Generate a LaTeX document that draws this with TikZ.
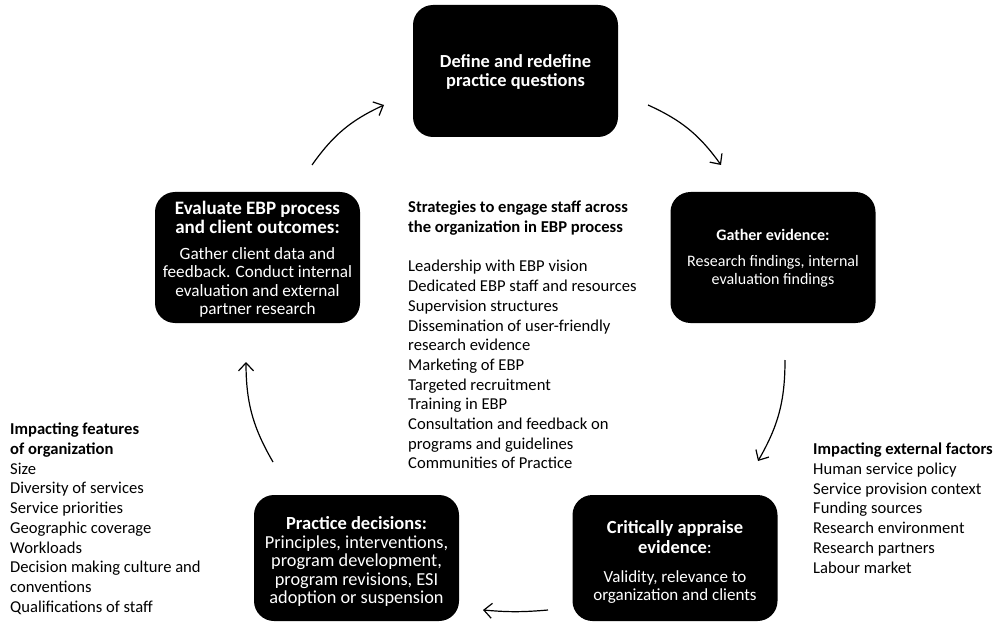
\documentclass[tikz,border=0pt]{standalone}
\usepackage{fontspec}
\setmainfont{Carlito}
\usetikzlibrary{arrows.meta}
\begin{document}
\begin{tikzpicture}[x=1pt,y=-1pt,
  box/.style={fill=black, rounded corners=20pt, minimum width=205pt, inner sep=0pt},
  ttl/.style={text=white, align=center, inner sep=0pt, font=\fontsize{18.5}{19}\selectfont\bfseries},
  body/.style={text=white, align=center, inner sep=0pt, font=\fontsize{17.2}{18.5}\selectfont},
  lbl/.style={anchor=north west, align=left, inner sep=0pt, font=\fontsize{16.6}{19.7}\selectfont},
  arr/.style={line width=1.2pt, -{Straight Barb[length=8pt,width=15pt]}}
]
\useasboundingbox (0,0) rectangle (1002,623);
% boxes
\node[box, minimum height=132pt] (define) at (515.5,71) {};
\node[box, minimum height=131pt] (evaluate) at (257.5,257.5) {};
\node[box, minimum height=131pt] (gather) at (773,257.5) {};
\node[box, minimum height=126pt] (practice) at (356.5,558) {};
\node[box, minimum height=126pt] (appraise) at (675,558) {};
% box texts
\node[ttl, font=\fontsize{18.4}{18.5}\selectfont\bfseries] (defineT) at (515.5,72) {Define and redefine\\practice questions};
\node[ttl, font=\fontsize{19}{19}\selectfont\bfseries] (evaluateT) at (257.5,217.5) {Evaluate EBP process\\and client outcomes:};
\node[body] (evaluateB) at (257.5,282.5) {Gather client data and\\feedback. Conduct internal\\evaluation and external\\partner research};
\node[ttl, font=\fontsize{16}{18}\selectfont\bfseries] (gatherT) at (773,235) {Gather evidence:};
\node[body, font=\fontsize{16}{18}\selectfont] (gatherB) at (773,271) {Research findings, internal\\evaluation findings};
\node[ttl] (practiceT) at (356.5,523) {Practice decisions:};
\node[body, font=\fontsize{18.3}{18.3}\selectfont] (practiceB) at (356.5,571) {Principles, interventions,\\program development,\\program revisions, ESI\\adoption or suspension};
\node[ttl, font=\fontsize{18.5}{20}\selectfont\bfseries] (appraiseT) at (675,537) {Critically appraise\\evidence\textmd{:}};
\node[body, font=\fontsize{17}{17.5}\selectfont] (appraiseB) at (675,587) {Validity, relevance to\\organization and clients};
% side texts
\node[lbl] (strategies) at (408,201) {\textbf{Strategies to engage staff across}\\\textbf{the organization in EBP process}\\[19.7pt]Leadership with EBP vision\\Dedicated EBP staff and resources\\Supervision structures\\Dissemination of user-friendly\\research evidence\\Marketing of EBP\\Targeted recruitment\\Training in EBP\\Consultation and feedback on\\programs and guidelines\\Communities of Practice};
\node[lbl] (orgfeat) at (10,423) {\textbf{Impacting features}\\\textbf{of organization}\\Size\\Diversity of services\\Service priorities\\Geographic coverage\\Workloads\\Decision making culture and\\conventions\\Qualifications of staff};
\node[lbl] (extfact) at (813,443) {\textbf{Impacting external factors}\\Human service policy\\Service provision context\\Funding sources\\Research environment\\Research partners\\Labour market};
% arrows
\coordinate (a1s) at (312,165); \coordinate (a1e) at (384,105);
\coordinate (a2s) at (648,105); \coordinate (a2e) at (721,165);
\coordinate (a3s) at (785,360); \coordinate (a3e) at (758,461);
\coordinate (a4s) at (548,610); \coordinate (a4e) at (483,610);
\coordinate (a5s) at (273,462); \coordinate (a5e) at (246,362);
\draw[arr] (a1s) to[bend left=15] (a1e);
\draw[arr] (a2s) to[bend left=15] (a2e);
\draw[arr] (a3s) to[bend left=15] (a3e);
\draw[arr] (a4s) to[bend left=5] (a4e);
\draw[arr] (a5s) to[bend left=15] (a5e);
\end{tikzpicture}
\end{document}
